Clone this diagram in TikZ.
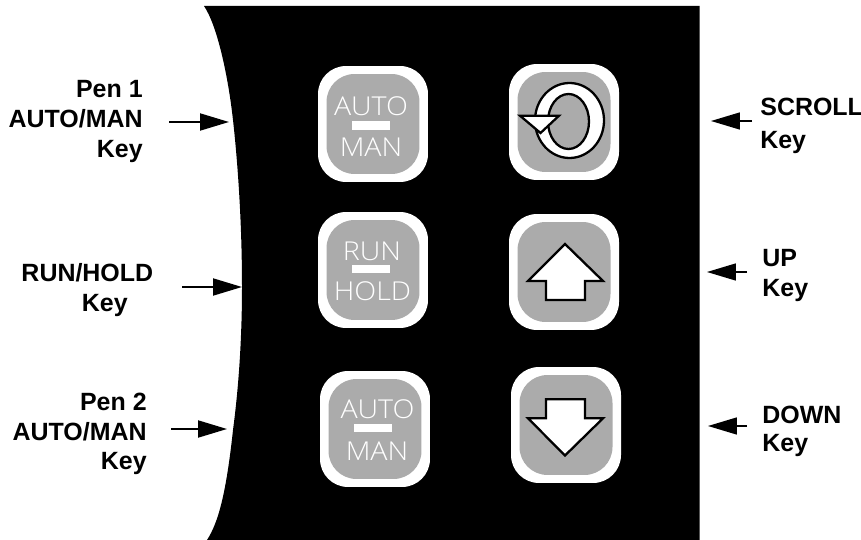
\documentclass[tikz,border=0pt]{standalone}
\usepackage{fontspec}
\setmainfont{Liberation Sans}
\newfontfamily\keyfont[FakeStretch=1.1]{Open Sans Light}
\usetikzlibrary{arrows.meta, positioning}

\begin{document}
\begin{tikzpicture}[x=0.02cm, y=-0.02cm]
    \tikzstyle{keyframe} = [rectangle, rounded corners=0.56cm, fill=white, minimum width=2.2cm, minimum height=2.32cm, inner sep=0pt]
    \tikzstyle{keyface} = [rectangle, rounded corners=0.56cm, fill=keygray, minimum width=1.86cm, minimum height=2cm, inner sep=0pt]
    \tikzstyle{keyrule} = [rectangle, fill=white, minimum width=0.76cm, minimum height=0.17cm, inner sep=0pt]
    \tikzstyle{keytext} = [text=white, font=\keyfont\fontsize{14.8}{17}\selectfont, inner sep=0pt]
    \tikzstyle{callout} = [font=\fontsize{14.2}{17}\selectfont\bfseries, inner sep=0pt]
    \tikzstyle{symbol} = [draw=black, fill=white, line width=1.3pt, line join=miter]
    \tikzstyle{leftarrow} = [line width=1.1pt, -{Triangle[length=0.58cm, width=0.34cm]}]
    \tikzstyle{rightarrow} = [line width=0.9pt, -{Triangle[length=0.58cm, width=0.34cm, sep=1.3pt]}]
    \definecolor{keygray}{gray}{0.67}

    \useasboundingbox (0,0) rectangle (861,540);

    % panel
    \fill[black] (204,6) -- (699.5,6) -- (699.5,540) -- (207,540)
        .. controls (218,523) and (226,495) .. (233,430)
        .. controls (239,385) and (242,335) .. (242,287)
        .. controls (242,225) and (238,165) .. (233,120)
        .. controls (228,75) and (217,25) .. (204,6) -- cycle;

    % keys
    \node[keyframe] (autoa) at (373,124) {};
    \node[keyface] (autoaface) at (autoa.center) {};
    \node[keyrule] (autoarule) at (371,125.5) {};
    \node[keytext] (autoatext) at (371,106) {AUTO};
    \node[keytext] (autoaman) at (371,147.5) {MAN};

    \node[keyframe] (scroll) at (564,122) {};
    \node[keyface] (scrollface) at (scroll.center) {};

    \node[keyframe] (run) at (373,270) {};
    \node[keyface] (runface) at (run.center) {};
    \node[keyrule] (runrule) at (371,269) {};
    \node[keytext] (runtext) at (372,251.5) {RUN};
    \node[keytext] (holdtext) at (372.5,291.5) {HOLD};

    \node[keyframe] (up) at (564,272) {};
    \node[keyface] (upface) at (up.center) {};

    \node[keyframe] (autob) at (375,429) {};
    \node[keyface] (autobface) at (autob.center) {};
    \node[keyrule] (autobrule) at (373,428) {};
    \node[keytext] (autobtext) at (377.5,409.5) {AUTO};
    \node[keytext] (autobman) at (377,451.5) {MAN};

    \node[keyframe] (down) at (566,425) {};
    \node[keyface] (downface) at (down.center) {};

    % key symbols
    \draw[symbol, even odd rule] (569.5,120.5) ellipse (34.5 and 37.5) (568.5,121.5) ellipse (20.5 and 27.5);
    \draw[symbol] (520,115.7) -- (559,115.7) -- (540.5,133) -- cycle;
    \draw[symbol] (565,244) -- (603,281) -- (585,281) -- (585,300) -- (546,300) -- (546,281) -- (528,281) -- cycle;
    \draw[symbol] (565,455.5) -- (603,418.3) -- (585,418.3) -- (585,399.3) -- (546,399.3) -- (546,418.3) -- (528,418.3) -- cycle;

    % labels
    \node[callout, align=right, anchor=east] (penone) at (143,121.5) {Pen 1\\AUTO/MAN\\Key};
    \node[callout, align=right, anchor=east] (runhold) at (153.5,290) {RUN/HOLD\\Key\rule{14.5pt}{0pt}};
    \node[callout, align=right, anchor=east] (pentwo) at (147,434) {Pen 2\\AUTO/MAN\\Key};
    \node[callout, align=left, anchor=west] (scrolllabel) at (760,126) {SCROLL\\[1.5pt]Key};
    \node[callout, align=left, anchor=west] (uplabel) at (762,275.5) {UP\\[0.5pt]Key};
    \node[callout, align=left, anchor=west] (downlabel) at (762,431.5) {DOWN\\[-1pt]Key};

    % arrows
    \coordinate (penonetail) at (169,122);
    \coordinate (penonetip) at (229,122);
    \coordinate (runholdtail) at (182,287);
    \coordinate (runholdtip) at (242,287);
    \coordinate (pentwotail) at (171,429);
    \coordinate (pentwotip) at (227,429);
    \coordinate (scrolltail) at (752,121);
    \coordinate (scrolltip) at (708.7,121);
    \coordinate (uptail) at (747,272);
    \coordinate (uptip) at (704.7,272);
    \coordinate (downtail) at (747,426);
    \coordinate (downtip) at (705.7,426);

    \draw[leftarrow] (penonetail) -- (penonetip);
    \draw[leftarrow] (runholdtail) -- (runholdtip);
    \draw[leftarrow] (pentwotail) -- (pentwotip);
    \draw[rightarrow] (scrolltail) -- (scrolltip);
    \draw[rightarrow] (uptail) -- (uptip);
    \draw[rightarrow] (downtail) -- (downtip);
\end{tikzpicture}
\end{document}
